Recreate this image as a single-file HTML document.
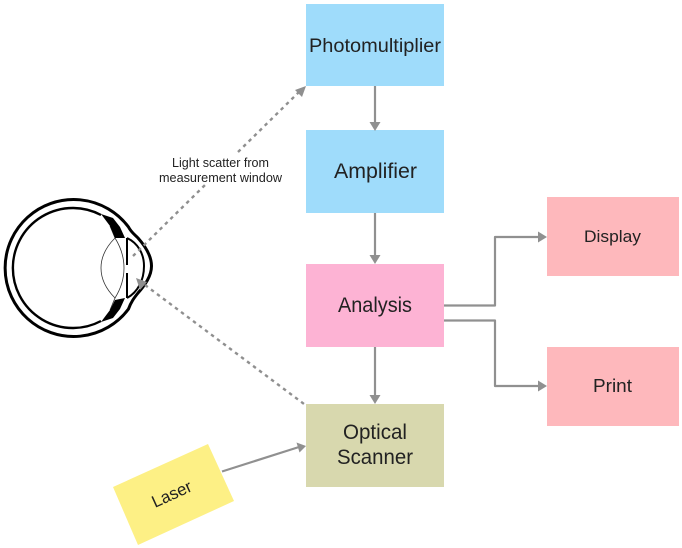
<!DOCTYPE html>
<html>
<head>
<meta charset="utf-8">
<style>
html,body{margin:0;padding:0;background:#fff;width:682px;height:548px;overflow:hidden}
svg{display:block}
text{font-family:"Liberation Sans",sans-serif;fill:#222}
</style>
</head>
<body>
<svg width="682" height="548" viewBox="0 0 682 548" xmlns="http://www.w3.org/2000/svg">
<rect x="306" y="4" width="138" height="82" fill="#9fdcfb"/>
<rect x="306" y="130" width="138" height="83" fill="#9fdcfb"/>
<rect x="306" y="264" width="138" height="83" fill="#fdb3d4"/>
<rect x="306" y="404" width="138" height="83" fill="#d8d8ae"/>
<rect x="547" y="197" width="132" height="79" fill="#feb8bc"/>
<rect x="547" y="347" width="132" height="79" fill="#feb8bc"/>
<polygon points="208,444 234,501 138,545 113,487" fill="#fdf085"/>

<!-- solid connectors -->
<g stroke="#909090" stroke-width="2.200" fill="none" stroke-linejoin="round">
<path d="M375 86V123"/>
<path d="M375 213V257"/>
<path d="M375 347V397"/>
<path d="M444 305.500H495V237H540"/>
<path d="M444 320.500H495V386H540"/>
<path d="M222 471.500L299 447"/>
</g>
<g fill="#909090">
<polygon points="375,131 369.500,122 380.500,122"/>
<polygon points="375,264 369.500,255 380.500,255"/>
<polygon points="375,404 369.500,395 380.500,395"/>
<polygon points="547,237 538,231.500 538,242.500"/>
<polygon points="547,386 538,380.500 538,391.500"/>
<polygon points="306,446 296.500,442.500 299.500,452.500"/>
</g>

<!-- eye -->
<g fill="none" stroke="#000">
<path d="M128.500 227A68.500 68.500 0 1 0 128.500 309C131 302 134 298 138 293C145 285 151.500 276 151.500 266C151.500 256 146 247 138 238C134 234 131 232 128.500 227Z" stroke-width="3"/>
<path d="M101 215A60 60 0 1 0 101 321" stroke-width="2.400"/>
<path d="M127 238C138 243 144 254 144 266C144 280 138 292 127 298" stroke-width="2"/>
<path d="M127 238V265M127 273V298" stroke-width="2"/>
<path d="M115 238C105 248 101 258 101 268C101 278 105 288 115 298C120 290 124 280 124 268C124 256 120 246 115 238Z" stroke-width="0.800" stroke="#333"/>
<path d="M115 238L110 226M115 298L110 310" stroke-width="0.800" stroke="#333"/>
</g>
<polygon points="101,214 113,218 120,227 125,238 115,238 110,226" fill="#000"/>
<polygon points="101,322 113,318 120,309 125,298 115,300 110,310" fill="#000"/>

<!-- dashed connectors -->
<g stroke="#8f8f8f" stroke-width="2.400" fill="none" stroke-dasharray="3.500 4">
<path d="M133 256L205 185"/>
<path d="M238 152L300 91"/>
<path d="M145 285L304 404"/>
</g>
<polygon points="306,86 295,90 302,97" fill="#8f8f8f"/>
<polygon points="136,278 147,282 140,290" fill="#8f8f8f"/>

<!-- labels -->
<text x="309" y="52" font-size="19.500" textLength="132" lengthAdjust="spacingAndGlyphs">Photomultiplier</text>
<text x="334" y="178" font-size="21" textLength="83" lengthAdjust="spacingAndGlyphs">Amplifier</text>
<text x="338" y="312" font-size="21" textLength="74" lengthAdjust="spacingAndGlyphs">Analysis</text>
<text x="343" y="439" font-size="21" textLength="64" lengthAdjust="spacingAndGlyphs">Optical</text>
<text x="337" y="464" font-size="21" textLength="76" lengthAdjust="spacingAndGlyphs">Scanner</text>
<text x="584" y="242" font-size="16.500" textLength="57" lengthAdjust="spacingAndGlyphs">Display</text>
<text x="593" y="392" font-size="18.500" textLength="39" lengthAdjust="spacingAndGlyphs">Print</text>
<text x="172" y="167" font-size="12.500" textLength="97" lengthAdjust="spacingAndGlyphs">Light scatter from</text>
<text x="159" y="182" font-size="12.500" textLength="123" lengthAdjust="spacingAndGlyphs">measurement window</text>
<text transform="translate(155 508) rotate(-24.500)" font-size="17" textLength="42" lengthAdjust="spacingAndGlyphs">Laser</text>
</svg>
</body>
</html>
